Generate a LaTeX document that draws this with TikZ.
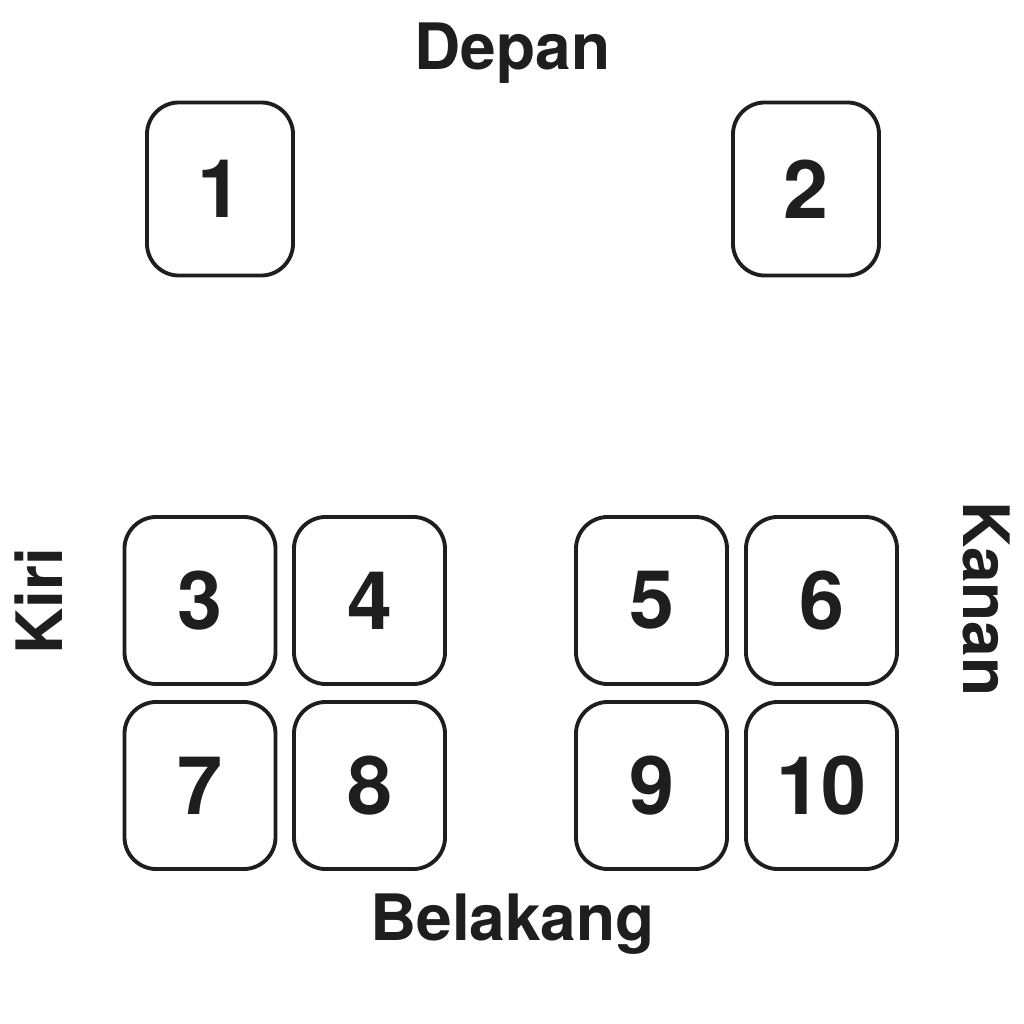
\documentclass[tikz,border=0pt]{standalone}
\usepackage{fontspec}
\setmainfont{TeX Gyre Heros}
\definecolor{ink}{HTML}{1E1E1E}

\begin{document}
\begin{tikzpicture}[x=0.01cm,y=-0.01cm,draw=ink,text=ink,line width=1.1pt,
        seat/.style={draw,fill=white,rounded corners=0.32cm,inner sep=0pt,
                     font=\fontsize{23}{24}\selectfont\bfseries},
        frontseat/.style={seat,minimum width=1.46cm,minimum height=1.73cm},
        rearseat/.style={seat,minimum width=1.51cm,minimum height=1.67cm},
        side/.style={anchor=base,inner sep=0pt,
                     font=\fontsize{18.2}{20}\selectfont\bfseries}]
            \useasboundingbox (0,0) rectangle (1024,1024);

            % front row
            \node [frontseat] (s1) at (220,189) {1};
            \node [frontseat] (s2) at (806,189) {2};

            % X % 200   369.5   651.5   821.5
            % Y % 600.5   785.5
            \foreach \n/\x/\y in {3/200/600.5, 4/369.5/600.5, 5/651.5/600.5, 6/821.5/600.5,
                                  7/200/785.5, 8/369.5/785.5, 9/651.5/785.5, 10/821.5/785.5}
                {\node [rearseat] (s\n) at (\x,\y) {\n};}

            \node [side] (depan) at (512.5,70) {Depan};
            \node [side] (belakang) at (512.5,940) {Belakang};
            \node [side,rotate=90] (kiri) at (62,601) {Kiri};
            \node [side,rotate=-90] (kanan) at (963,599) {Kanan};
        \end{tikzpicture}
\end{document}
